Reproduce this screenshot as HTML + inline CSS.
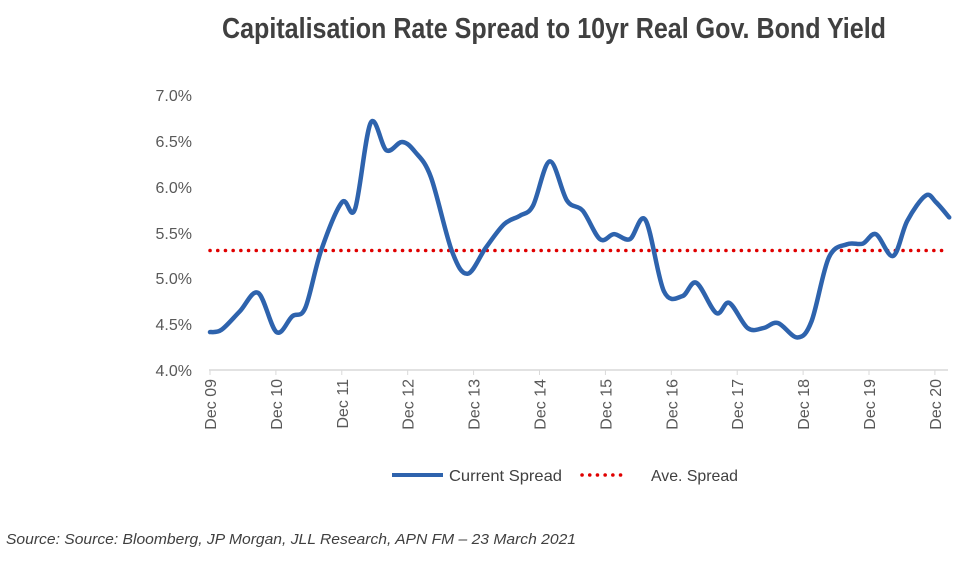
<!DOCTYPE html>
<html><head><meta charset="utf-8"><style>
body{margin:0;background:#fff;width:960px;height:562px;overflow:hidden;font-family:"Liberation Sans",sans-serif}
</style></head><body>
<svg width="960" height="562" viewBox="0 0 960 562" xmlns="http://www.w3.org/2000/svg">
<text x="222" y="38" textLength="664" lengthAdjust="spacingAndGlyphs" font-weight="bold" font-size="29" fill="#404040">Capitalisation Rate Spread to 10yr Real Gov. Bond Yield</text>
<g font-size="16" fill="#595959" text-anchor="end">
<text x="192" y="101">7.0%</text><text x="192" y="147">6.5%</text><text x="192" y="193">6.0%</text><text x="192" y="239">5.5%</text><text x="192" y="284">5.0%</text><text x="192" y="330">4.5%</text><text x="192" y="376">4.0%</text>
</g>
<line x1="209" y1="370" x2="948" y2="370" stroke="#d9d9d9" stroke-width="1.5"/>
<g id="xt" font-size="16" fill="#595959"></g>
<line x1="210" y1="250.5" x2="948" y2="250.5" stroke="#e00000" stroke-width="3.5" stroke-dasharray="0.1 7.6" stroke-linecap="round"/>
<path id="ser" d="" fill="none" stroke="#2e63ad" stroke-width="4.5" stroke-linejoin="round" stroke-linecap="round"/>
<line x1="392" y1="475" x2="443" y2="475" stroke="#2e63ad" stroke-width="4"/>
<text x="449" y="481" font-size="16" fill="#404040" textLength="113" lengthAdjust="spacingAndGlyphs">Current Spread</text>
<line x1="582" y1="475" x2="626" y2="475" stroke="#e00000" stroke-width="3.5" stroke-dasharray="0.1 7.6" stroke-linecap="round"/>
<text x="651" y="481" font-size="16" fill="#404040" textLength="87" lengthAdjust="spacingAndGlyphs">Ave. Spread</text>
<text x="6" y="544" font-size="15" font-style="italic" fill="#404040" textLength="570" lengthAdjust="spacingAndGlyphs">Source: Source: Bloomberg, JP Morgan, JLL Research, APN FM – 23 March 2021</text>
</svg>
<script>
var z=[[133,752],[155,745],[190,690],[225,635],[260,752],[290,705],[315,680],[345,510],[385,365],[410,385],[440,128],[470,210],[500,185],[525,215],[555,290],[595,510],[625,578],[660,500],[695,430],[725,405],[750,375],[782,243],[815,360],[845,390],[878,475],[905,460],[935,475],[965,418],[1000,630],[1035,645],[1062,605],[1100,695],[1125,665],[1160,740],[1190,740],[1218,725],[1255,768],[1282,720],[1315,530],[1350,490],[1380,488],[1405,460],[1438,525],[1465,420],[1500,345],[1520,365],[1545,410]];
var p=z.map(function(a){return [210+(a[0]-133)*0.5235, 95+(a[1]-45)*275/820];});
var d="M"+p[0][0]+","+p[0][1];
for(var i=0;i<p.length-1;i++){var p0=p[i-1]||p[i],p1=p[i],p2=p[i+1],p3=p[i+2]||p2;
d+=" C"+(p1[0]+(p2[0]-p0[0])/6)+","+(p1[1]+(p2[1]-p0[1])/6)+" "+(p2[0]-(p3[0]-p1[0])/6)+","+(p2[1]-(p3[1]-p1[1])/6)+" "+p2[0]+","+p2[1];}
document.getElementById("ser").setAttribute("d",d);
var g=document.getElementById("xt"),s="";
for(var k=0;k<12;k++){var x=210+k*65.9;var yy=("0"+(9+k)).slice(-2);
s+='<line x1="'+x+'" y1="370" x2="'+x+'" y2="375" stroke="#d9d9d9"/>';
s+='<text transform="translate('+(x+6)+',379) rotate(-90)" text-anchor="end">Dec '+yy+'</text>';}
g.innerHTML=s;
</script>
</body></html>
